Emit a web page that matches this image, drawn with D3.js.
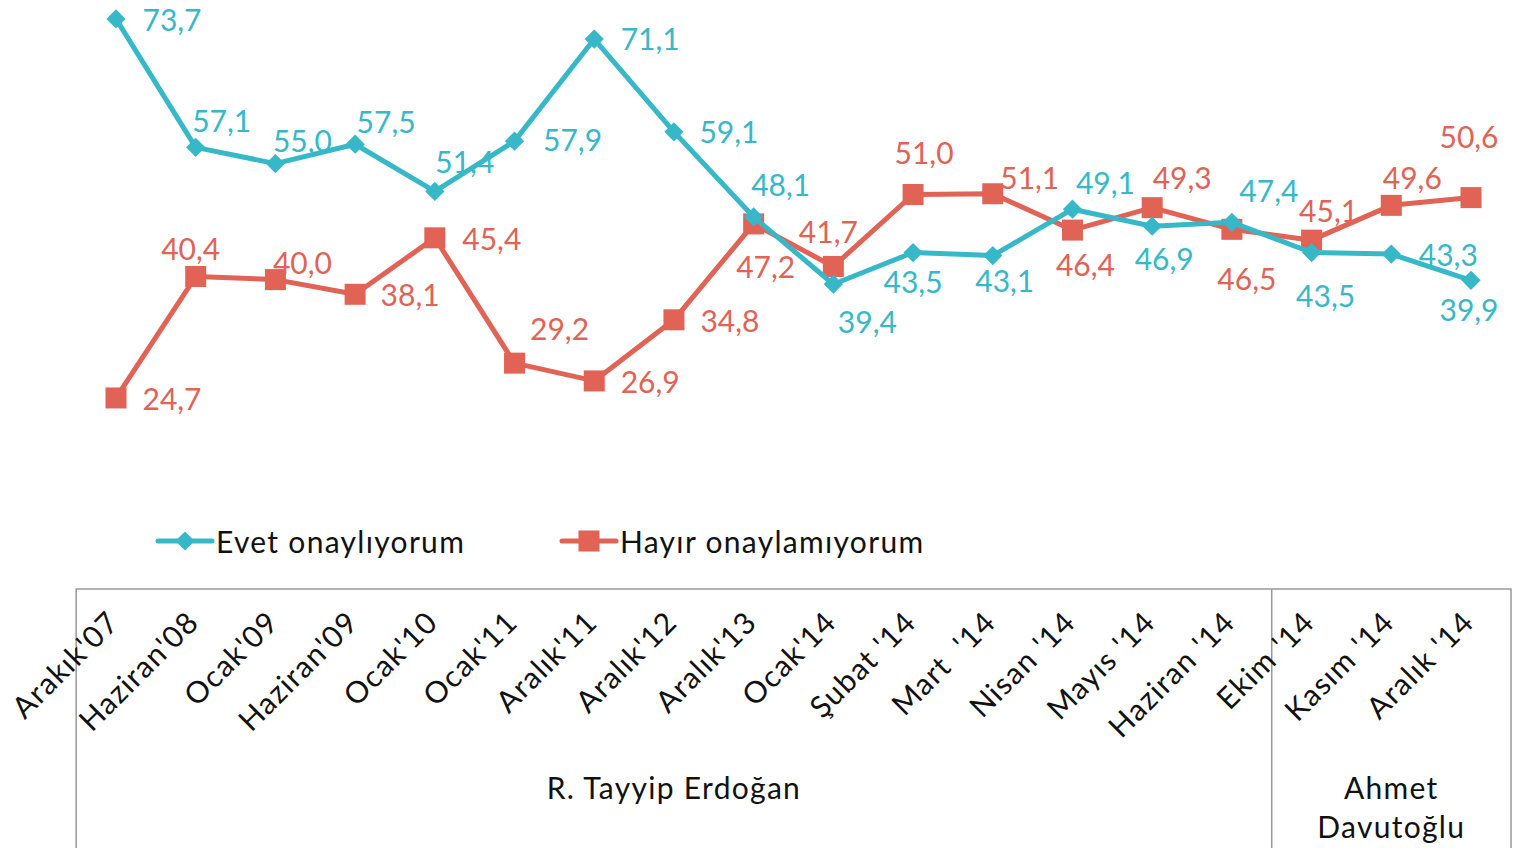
<!DOCTYPE html>
<html><head><meta charset="utf-8">
<script src="https://cdn.jsdelivr.net/npm/d3@7"></script>
<style>
html,body{margin:0;padding:0;background:#fff;}
svg{display:block;font-family:Lato,"Noto Sans",sans-serif;}
</style></head>
<body><svg id="c" width="1515" height="848"></svg>
<script>
const categories = ["Arakık'07","Haziran'08","Ocak'09","Haziran'09","Ocak'10","Ocak'11","Aralık'11","Aralık'12","Aralık'13","Ocak'14","Şubat '14","Mart  '14","Nisan '14","Mayıs '14","Haziran '14","Ekim '14","Kasım '14","Aralık '14"];
const evet = [73.7,57.1,55.0,57.5,51.4,57.9,71.1,59.1,48.1,39.4,43.5,43.1,49.1,46.9,47.4,43.5,43.3,39.9];
const hayir = [24.7,40.4,40.0,38.1,45.4,29.2,26.9,34.8,47.2,41.7,51.0,51.1,46.4,49.3,46.5,45.1,49.6,50.6];
const seriesNames = ["Evet onaylıyorum","Hayır onaylamıyorum"];
const groups = [{name:["R. Tayyip Erdoğan"], from:0, to:14},{name:["Ahmet","Davutoğlu"], from:15, to:17}];
// label offsets (relative to point), style only
const evetOff = [[56,0],[26,-27],[27,-24],[31,-23],[30,-30],[58,-2],[56,-1],[55,-1],[27,-33],[34,37],[0,28],[12,24],[33,-27],[12,32],[37,-32],[14,42],[57,0],[-2,29]];
const hayirOff = [[56,0],[-5,-29],[27,-18],[55,0],[57,0],[45,-35],[56,0],[56,0],[12,42],[-5,-35],[11,-43],[37,-17],[13,34],[30,-31],[15,49],[17,-30],[21,-28],[-2,-62]];

const blue = "#36B8C8", red = "#E06355";
const svg = d3.select("#c");
const x = d3.scalePoint().domain(categories).range([116,1471]);
const y = d3.scaleLinear().domain([0,80]).range([589,589-80*7.735]);
const fmt = v => v.toFixed(1).replace(".",",");

const line = d3.line().x((d,i)=>x(categories[i])).y(d=>y(d));

function drawSeries(vals, color, shape){
  svg.append("path").attr("d", line(vals)).attr("fill","none").attr("stroke",color).attr("stroke-width",5).attr("stroke-linejoin","round");
  const g = svg.append("g");
  vals.forEach((v,i)=>{
    const cx = x(categories[i]), cy = y(v);
    if(shape==="diamond"){
      g.append("path").attr("d", d3.symbol().type(d3.symbolSquare).size(185)()).attr("transform",`translate(${cx},${cy}) rotate(45)`).attr("fill",color);
    } else {
      g.append("rect").attr("x",cx-10.5).attr("y",cy-10.5).attr("width",21).attr("height",21).attr("fill",color);
    }
  });
}
drawSeries(hayir, red, "square");
drawSeries(evet, blue, "diamond");
function drawLabels(vals,color,offs){
  svg.append("g").selectAll("text").data(vals).join("text")
    .attr("x",(d,i)=>x(categories[i])+offs[i][0])
    .attr("y",(d,i)=>y(d)+offs[i][1])
    .attr("text-anchor","middle").attr("dominant-baseline","central")
    .attr("font-size",30).attr("fill",color).text(d=>fmt(d));
}
drawLabels(evet,blue,evetOff);
drawLabels(hayir,red,hayirOff);

// legend
const leg = [{n:seriesNames[0],c:blue,s:"diamond",x:158},{n:seriesNames[1],c:red,s:"square",x:562}];
leg.forEach(l=>{
  const g = svg.append("g");
  g.append("line").attr("x1",l.x).attr("x2",l.x+54).attr("y1",541).attr("y2",541).attr("stroke",l.c).attr("stroke-width",5).attr("stroke-linecap","round");
  if(l.s==="diamond") g.append("path").attr("d", d3.symbol().type(d3.symbolSquare).size(185)()).attr("transform",`translate(${l.x+27},541) rotate(45)`).attr("fill",l.c);
  else g.append("rect").attr("x",l.x+16.5).attr("y",530.5).attr("width",21).attr("height",21).attr("fill",l.c);
  g.append("text").attr("x",l.x+58).attr("y",541).attr("dominant-baseline","central").attr("font-size",30).attr("letter-spacing",1.3).attr("fill","#111").text(l.n);
});

// category frame
const fr = svg.append("g").attr("stroke","#999").attr("stroke-width",1.5).attr("fill","none");
const step = x.step();
const gx = i => x(categories[i]) - step/2;
fr.append("path").attr("d",`M${gx(0)},848 V589 H1511 V848`);
groups.slice(1).forEach(g=>{ fr.append("line").attr("x1",gx(g.from)).attr("x2",gx(g.from)).attr("y1",589).attr("y2",848); });

svg.append("g").selectAll("text").data(categories).join("text")
  .attr("transform",d=>`translate(${x(d)+5},624) rotate(-45)`)
  .attr("text-anchor","end").attr("font-size",30).attr("letter-spacing",1.3)
  .style("white-space","pre").attr("fill","#111").text(d=>d);

groups.forEach(g=>{
  const cx = (x(categories[g.from])+x(categories[g.to]))/2;
  const t = svg.append("text").attr("text-anchor","middle").attr("font-size",30).attr("letter-spacing",1.3).attr("fill","#111");
  g.name.forEach((n,k)=>t.append("tspan").attr("x",cx).attr("y",799+k*39).text(n));
});
</script></body></html>
